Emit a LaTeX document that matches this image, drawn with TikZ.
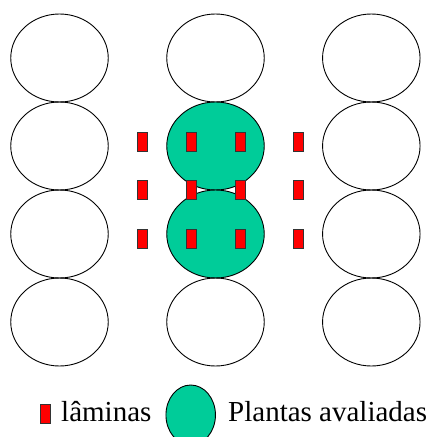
\documentclass[tikz,border=0pt]{standalone}
\usepackage{fontspec}
\setmainfont{Liberation Serif}
\usetikzlibrary{shapes.geometric}
\definecolor{plantgreen}{HTML}{00CC99}
\tikzset{
  plant/.style={draw=black, line width=0.9pt, ellipse, inner sep=0pt, minimum width=97.5pt, minimum height=88pt},
  evaluated/.style={plant, fill=plantgreen},
  lamina/.style={draw=black!80, line width=0.7pt, fill=red, rectangle, inner sep=0pt, minimum width=10pt, minimum height=19pt},
  legendtext/.style={font=\fontsize{29}{32}\selectfont, inner sep=0pt, anchor=base west}
}
\begin{document}
\begin{tikzpicture}[x=1pt,y=-1pt]
\useasboundingbox (0,0) rectangle (430,437);
\begin{scope}
\clip (0,0) rectangle (430,437);
% plants
\foreach \r/\y in {1/58,2/146,3/234,4/322}{
  \node[plant] (L\r) at (59.5,\y) {};
  \node[plant] (R\r) at (371.3,\y) {};
}
\node[plant] (M1) at (215.5,58) {};
\node[evaluated] (M2) at (215.5,146) {};
\node[evaluated] (M3) at (215.5,234) {};
\node[plant] (M4) at (215.5,322) {};
% laminas
\foreach \c/\x in {a/142.5,b/191.3,c/240.3,d/298.5}{
  \foreach \r/\y in {1/141.7,2/190.3,3/239}{
    \node[lamina] (lam\c\r) at (\x,\y) {};
  }
}
% legend
\node[lamina] (leglam) at (45,414.3) {};
\node[legendtext] (legtext1) at (61,421) {lâminas};
\node[evaluated, minimum width=49.5pt, minimum height=60pt] (legplant) at (190.7,415) {};
\node[legendtext] (legtext2) at (228,421) {Plantas avaliadas};
\end{scope}
\end{tikzpicture}
\end{document}
